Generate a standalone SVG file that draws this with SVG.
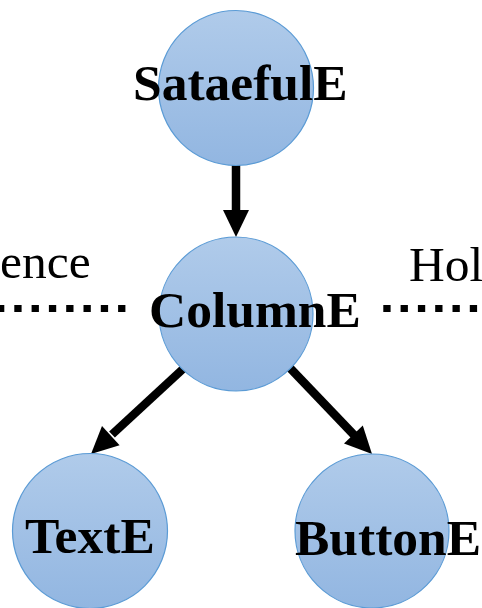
<svg xmlns="http://www.w3.org/2000/svg" width="482" height="608" viewBox="0 0 482 608">
<defs>
<linearGradient id="g" x1="0" y1="0" x2="0" y2="1">
<stop offset="0" stop-color="#b0cbea"/>
<stop offset="1" stop-color="#92b6e1"/>
</linearGradient>
<style>
.n{fill:url(#g);stroke:#5b9bd5;stroke-width:1.2}
.t{font-family:"Liberation Serif","Times New Roman",serif;font-weight:bold;font-size:51.5px;fill:#000}
.l{font-family:"Liberation Serif","Times New Roman",serif;font-size:49.5px;fill:#000}
.s{stroke:#000;stroke-width:8.5;fill:none}
.d{stroke:#000;stroke-width:7;stroke-dasharray:7.3 10;fill:none}
</style>
</defs>
<rect width="482" height="608" fill="#fff"/>
<g id="labels">
<text class="l" x="0" y="278">ence</text>
<text class="l" x="409" y="281">Hol</text>
</g>
<g id="connectors">
<line class="d" x1="-3" y1="308.5" x2="126" y2="308.5"/>
<line class="d" x1="383.3" y1="308.5" x2="490" y2="308.5"/>
<line class="s" x1="236" y1="164" x2="236" y2="212"/>
<polygon points="223,210 249,210 236,237"/>
<line class="s" x1="184" y1="368" x2="112" y2="434.5"/>
<polygon points="119.6,445.3 102,426.1 91,454"/>
<line class="s" x1="290" y1="368" x2="355" y2="436"/>
<polygon points="344,443.5 362.8,425.5 372,454"/>
</g>
<g id="node-stateful">
<circle class="n" cx="236" cy="88" r="77.5"/>
<text class="t" x="133" y="100">SataefulE</text>
</g>
<g id="node-column">
<circle class="n" cx="236" cy="314" r="77"/>
<text class="t" x="149" y="327">ColumnE</text>
</g>
<g id="node-text">
<circle class="n" cx="90" cy="531" r="77.5"/>
<text class="t" x="25" y="553">TextE</text>
</g>
<g id="node-button">
<circle class="n" cx="372" cy="531" r="77"/>
<text class="t" x="295" y="555">ButtonE</text>
</g>
</svg>
